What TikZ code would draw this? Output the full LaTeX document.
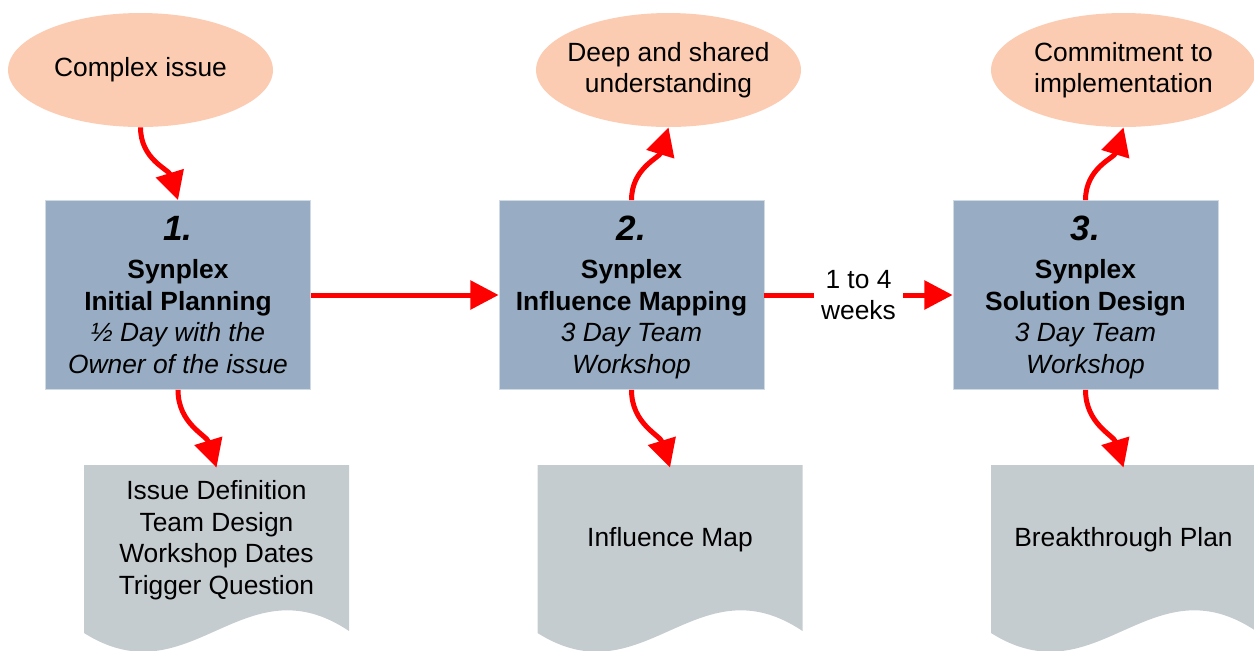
\documentclass[tikz,border=0pt]{standalone}
\usepackage{fontspec}
\setmainfont{Liberation Sans}
\usetikzlibrary{shapes.geometric,arrows.meta}
\definecolor{peach}{RGB}{252,204,178}
\definecolor{boxblue}{RGB}{152,173,195}
\definecolor{boxedge}{RGB}{208,218,228}
\definecolor{docgray}{RGB}{197,204,207}

\begin{document}
\begin{tikzpicture}[x=0.02cm,y=-0.02cm,
		font=\fontsize{15}{18}\selectfont,
		stage/.style={rectangle,fill=boxblue,draw=boxedge,line width=0.5pt,minimum width=5.3cm,minimum height=3.78cm,text depth=0pt,align=center},
		goal/.style={ellipse,fill=peach,minimum width=5.3cm,minimum height=2.28cm,inner xsep=-6pt,inner ysep=0pt,align=center},
		doc/.style={rectangle,minimum width=5.3cm,minimum height=2.88cm,align=center},
		flow/.style={red,line width=2.85pt,-{Triangle[width=16pt,length=16pt]}}]
		\useasboundingbox (0,0) rectangle (1254,650);
		\foreach \x in {84,537.5,991}
			\fill[docgray] (\x,465) -- (\x,633) .. controls (\x+106,700) and (\x+159,560) .. (\x+265,631) -- (\x+265,465) -- cycle;
		\node[goal](e1) at (140.5,70) {Complex issue};
		\node[goal](e2) at (668.5,70) {Deep and shared\\understanding};
		\node[goal](e3) at (1123.5,70) {Commitment to\\implementation};
		\node[stage](b1) at (178,295) {{\fontsize{20}{24}\selectfont\bfseries\itshape 1.}\\[3.5pt]\textbf{Synplex}\\\textbf{Initial Planning}\\\textit{½ Day with the}\\\textit{Owner of the issue}};
		\node[stage](b2) at (631.5,295) {{\fontsize{20}{24}\selectfont\bfseries\itshape 2.}\\[3.5pt]\textbf{Synplex}\\\textbf{Influence Mapping}\\\textit{3 Day Team}\\\textit{Workshop}};
		\node[stage](b3) at (1085.5,295) {{\fontsize{20}{24}\selectfont\bfseries\itshape 3.}\\[3.5pt]\textbf{Synplex}\\\textbf{Solution Design}\\\textit{3 Day Team}\\\textit{Workshop}};
		\node[doc](d1) at (216.5,540) {Issue Definition\\Team Design\\Workshop Dates\\Trigger Question};
		\node[doc](d2) at (670,540) {Influence Map};
		\node[doc](d3) at (1123.5,540) {Breakthrough Plan};
		\draw[flow] (e1.south) to[out=-90,in=107] (b1.north);
		\draw[flow] (b1.south) to[out=-90,in=107] (d1.north);
		\draw[flow] (b2.north) to[out=90,in=-107] (e2.south);
		\draw[flow] (b2.south) to[out=-90,in=107] (d2.north);
		\draw[flow] (b3.north) to[out=90,in=-107] (e3.south);
		\draw[flow] (b3.south) to[out=-90,in=107] (d3.north);
		\draw[flow] (b1) -- (b2);
		\draw[flow] (b2) -- node[fill=white,text=black,inner sep=4pt,align=center](gap) {1 to 4\\weeks} (b3);
	\end{tikzpicture}
\end{document}
